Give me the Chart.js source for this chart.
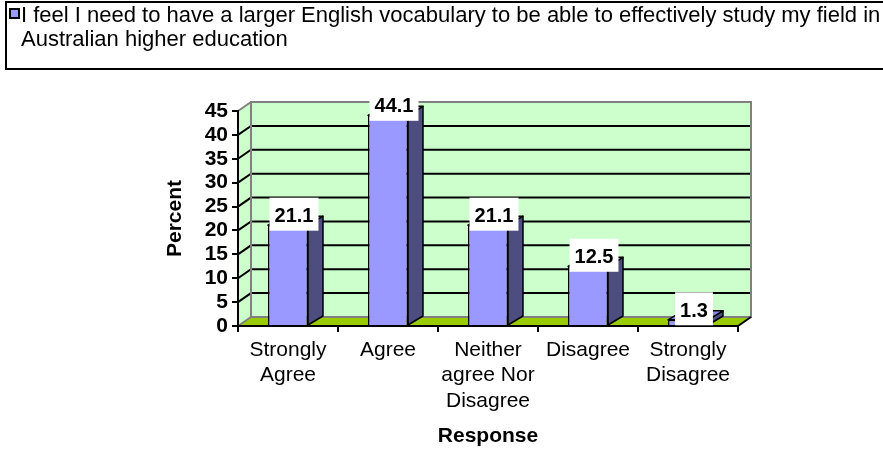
<!DOCTYPE html>
<html lang="en">
<head>
<meta charset="UTF-8">
<title>English vocabulary survey</title>
<script src="https://cdn.jsdelivr.net/npm/chart.js"></script>
<style>
  body { margin: 0; width: 883px; height: 457px; overflow: hidden; background: #fff; font-family: "Liberation Sans", Arial, sans-serif; }
  #wrap { position: relative; width: 883px; height: 457px; }
  #legendBox { position: absolute; left: 5px; top: 1px; width: 900px; height: 65px; border: 2px solid #000; }
  #legendSwatch { position: absolute; left: 9px; top: 8px; width: 7px; height: 7px; border: 2px solid #000; background: #9999ff; }
  #legendText { position: absolute; left: 21px; top: 3px; font-size: 22px; line-height: 24px; color: #000; white-space: nowrap; }
  canvas { position: absolute; left: 0; top: 0; }
</style>
</head>
<body>
<div id="wrap">
  <canvas id="surveyChart" width="883" height="457"></canvas>
  <div id="legendBox"></div>
  <div id="legendSwatch"></div>
  <div id="legendText"></div>
</div>
<script>
  // legend text, one entry per line as it wraps in the original
  const seriesLabel = [
    "I feel I need to have a larger English vocabulary to be able to effectively study my field in",
    "Australian higher education"
  ];
  const categories = [["Strongly", "Agree"], "Agree", ["Neither", "agree Nor", "Disagree"], "Disagree", ["Strongly", "Disagree"]];
  const percentValues = [21.1, 44.1, 21.1, 12.5, 1.3];
  const yMin = 0, yMax = 45, yStep = 5;

  const FONT = '"Liberation Sans", Arial, sans-serif';
  const DX = 13, DY = -9, BAR_DX = 15;

  const legendText = document.getElementById("legendText");
  seriesLabel.forEach((line, i) => {
    if (i > 0) legendText.appendChild(document.createElement("br"));
    legendText.appendChild(document.createTextNode(line));
  });

  function poly(ctx, pts, fill, stroke) {
    ctx.beginPath();
    ctx.moveTo(pts[0][0], pts[0][1]);
    for (let i = 1; i < pts.length; i++) ctx.lineTo(pts[i][0], pts[i][1]);
    ctx.closePath();
    if (fill) { ctx.fillStyle = fill; ctx.fill(); }
    if (stroke) { ctx.strokeStyle = stroke; ctx.stroke(); }
  }

  // walls, floor, bar sides and the value boxes of the old 3D look
  const threeD = {
    id: "threeD",
    beforeDraw(chart) {
      const ctx = chart.ctx, a = chart.chartArea, y = chart.scales.y;
      const l = a.left, r = a.right;
      const t = y.getPixelForValue(yMax), b = y.getPixelForValue(yMin);
      ctx.save();
      ctx.lineWidth = 2;
      // back wall + left wall
      ctx.fillStyle = "#ccffcc";
      ctx.fillRect(l + DX, t + DY, r - l, b - t);
      poly(ctx, [[l, t], [l + DX, t + DY], [l + DX, b + DY], [l, b]], "#ccffcc");
      // gridlines
      ctx.strokeStyle = "#000";
      y.ticks.forEach(tk => {
        if (tk.value <= yMin || tk.value >= yMax) return;
        const py = y.getPixelForValue(tk.value);
        ctx.beginPath();
        ctx.moveTo(l, py);
        ctx.lineTo(l + DX, py + DY);
        ctx.lineTo(r + DX, py + DY);
        ctx.stroke();
      });
      // floor
      poly(ctx, [[l, b], [l + DX, b + DY], [r + DX, b + DY], [r, b]], "#99cc00");
      // wall edges
      ctx.strokeStyle = "#808080";
      ctx.strokeRect(l + DX, t + DY, r - l, b - t);
      ctx.beginPath();
      ctx.moveTo(l, t); ctx.lineTo(l + DX, t + DY);
      ctx.moveTo(l, b); ctx.lineTo(l + DX, b + DY);
      ctx.stroke();
      ctx.strokeStyle = "#000";
      ctx.beginPath();
      ctx.moveTo(r, b); ctx.lineTo(r + DX, b + DY);
      ctx.stroke();
      ctx.restore();
    },
    afterDatasetsDraw(chart) {
      const ctx = chart.ctx;
      const meta = chart.getDatasetMeta(0);
      ctx.save();
      ctx.lineWidth = 1.5;
      ctx.lineJoin = "round";
      meta.data.forEach(bar => {
        const x0 = bar.x - bar.width / 2, x1 = bar.x + bar.width / 2;
        const top = bar.y, base = bar.base;
        poly(ctx, [[x1, top], [x1 + BAR_DX, top + DY], [x1 + BAR_DX, base + DY], [x1, base]], "#4d4d80", "#000");
        poly(ctx, [[x0, top], [x0 + BAR_DX, top + DY], [x1 + BAR_DX, top + DY], [x1, top]], "#8585e6", "#000");
      });
      ctx.font = "bold 20px " + FONT;
      ctx.textAlign = "center";
      ctx.textBaseline = "middle";
      meta.data.forEach((bar, i) => {
        const txt = String(percentValues[i]);
        const cx = bar.x + 6, cy = bar.y - 9.5;
        const w = ctx.measureText(txt).width + 10;
        ctx.fillStyle = "#fff";
        ctx.fillRect(cx - w / 2, cy - 18, w, 33);
        ctx.fillStyle = "#000";
        ctx.fillText(txt, cx, cy + 1);
      });
      ctx.restore();
    }
  };

  new Chart(document.getElementById("surveyChart"), {
    type: "bar",
    data: {
      labels: categories,
      datasets: [{
        label: seriesLabel.join(" "),
        data: percentValues,
        backgroundColor: "#9999ff",
        borderColor: "#000",
        borderWidth: 1.5,
        barPercentage: 0.4,
        categoryPercentage: 1.0
      }]
    },
    options: {
      responsive: false,
      animation: false,
      devicePixelRatio: 1,
      layout: { padding: { left: 163, right: 145, top: 111, bottom: 8 } },
      plugins: { legend: { display: false }, tooltip: { enabled: false } },
      scales: {
        x: {
          grid: { drawOnChartArea: false, tickLength: 6, color: "#000", lineWidth: 2, offset: true },
          border: { display: true, color: "#000", width: 2 },
          ticks: { color: "#000", font: { family: FONT, size: 21, lineHeight: 1.22 }, padding: 5, maxRotation: 0, autoSkip: false },
          title: { display: true, text: "Response", color: "#000", font: { family: FONT, size: 21, weight: "bold", lineHeight: 1.2 }, padding: 0 },
          afterFit(s) { s.height = 123; }
        },
        y: {
          min: yMin,
          max: yMax,
          ticks: { stepSize: yStep, autoSkip: false, color: "#000", font: { family: FONT, size: 21, weight: "bold" }, padding: 4 },
          grid: { drawOnChartArea: false, tickLength: 6, color: "#000", lineWidth: 2 },
          border: { display: true, color: "#000", width: 2 },
          title: { display: true, text: "Percent", color: "#000", font: { family: FONT, size: 21, weight: "bold", lineHeight: 1.2 }, padding: 0 },
          afterFit(s) { s.width = 75; }
        }
      }
    },
    plugins: [threeD]
  });
</script>
</body>
</html>
